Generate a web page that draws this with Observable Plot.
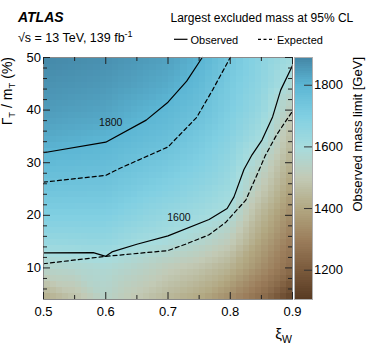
<!DOCTYPE html>
<html><head><meta charset="utf-8">
<script src="https://cdn.jsdelivr.net/npm/d3@7"></script>
<script src="https://cdn.jsdelivr.net/npm/@observablehq/plot@0.6"></script>
<style>
body{margin:0;background:#fff;}
#wrap{position:relative;width:374px;height:346px;font-family:"Liberation Sans",Arial,sans-serif;}
#wrap svg{position:absolute;left:0;top:0;overflow:visible;}
</style></head><body><div id="wrap"></div>
<script>
// ---- data ----
const xGrid = [0.5, 0.55, 0.6, 0.65, 0.7, 0.75, 0.8, 0.85, 0.9];      // xi_W
const yGrid = [4, 10, 15, 20, 25, 30, 35, 40, 45, 50];               // Gamma_T/m_T (%)
const massLimit = [                                                   // observed mass limit [GeV], rows = yGrid
  [1410, 1470, 1540, 1490, 1440, 1400, 1330, 1250, 1125],
  [1550, 1560, 1575, 1545, 1510, 1480, 1430, 1340, 1250],
  [1640, 1645, 1650, 1615, 1590, 1560, 1510, 1390, 1290],
  [1700, 1700, 1700, 1670, 1640, 1615, 1580, 1440, 1330],
  [1745, 1742, 1740, 1715, 1690, 1660, 1620, 1500, 1380],
  [1785, 1780, 1775, 1752, 1730, 1700, 1650, 1550, 1420],
  [1825, 1815, 1805, 1785, 1765, 1730, 1680, 1605, 1460],
  [1850, 1842, 1835, 1812, 1792, 1760, 1705, 1640, 1510],
  [1868, 1862, 1855, 1838, 1820, 1785, 1720, 1660, 1575],
  [1885, 1878, 1870, 1855, 1840, 1805, 1735, 1670, 1610]
];
const obs1800X = [0.5, 0.6, 0.665, 0.7, 0.73, 0.755];
const obs1800Y = [31.9, 33.9, 38.1, 41.5, 45.5, 50];
const exp1800X = [0.5, 0.6, 0.622, 0.7, 0.746, 0.772, 0.8];
const exp1800Y = [26.3, 27.6, 28.9, 33.0, 38.6, 43.9, 50];
const obs1600X = [0.5, 0.58, 0.6, 0.61, 0.65, 0.7, 0.766, 0.795, 0.806, 0.822, 0.835, 0.851, 0.868, 0.881, 0.9];
const obs1600Y = [12.85, 12.9, 12.2, 13.05, 14.5, 16.1, 19.2, 21.3, 23.5, 28.7, 31.5, 34.3, 38.7, 43.8, 48.5];
const exp1600X = [0.5, 0.6, 0.7, 0.728, 0.766, 0.793, 0.825, 0.846, 0.856, 0.875, 0.9];
const exp1600Y = [10.8, 12.2, 13.3, 14.5, 16.3, 18.7, 22.9, 28.5, 31.3, 35.4, 39.8];
const contourLabels = ["1800", "1600"];
const contourLabelX = [0.608, 0.7175];
const contourLabelY = [37.7, 19.6];
const xMajor = [0.5, 0.6, 0.7, 0.8, 0.9];
const xMinor = [0.55, 0.65, 0.75, 0.85];
const yMajor = [10, 20, 30, 40, 50];
const yMinor = [6, 8, 12, 14, 16, 18, 22, 24, 26, 28, 32, 34, 36, 38, 42, 44, 46, 48];
const cbTicks = [1200, 1400, 1600, 1800];
const colorDomain = [1105, 1200, 1300, 1400, 1500, 1600, 1700, 1800, 1890];
const colorRange = ["#583a22", "#7a5a3c", "#9c7e5c", "#b2a882", "#c2cab6", "#a6dcde", "#80cfe2", "#5cb6d4", "#4486a6"];

// ---- build ----
const cells = yGrid.flatMap((y, i) => xGrid.map((x, j) => ({x, y, v: massLimit[i][j]})));
const pts = (xs, ys) => xs.map((x, i) => ({x, y: ys[i]}));
const W = 374, H = 346, mL = 43, mR = 82, mT = 57, mB = 47;
const iw = W - mL - mR, ih = H - mT - mB;
const colorOpts = {type: "linear", domain: colorDomain, range: colorRange, interpolate: "rgb"};
const font = '"Liberation Sans", Arial, sans-serif';
const tk = {stroke: "#222", strokeWidth: 1};

const main = Plot.plot({
  width: W, height: H, marginLeft: mL, marginRight: mR, marginTop: mT, marginBottom: mB,
  style: {fontFamily: font, fontSize: "13px", background: "transparent", color: "#000"},
  x: {domain: [0.5, 0.9]}, y: {domain: [4, 50]}, color: colorOpts,
  marks: [
    Plot.raster(cells, {x: "x", y: "y", fill: "v", interpolate: "barycentric",
      x1: 0.5, x2: 0.9, y1: 4, y2: 50, width: 40, height: 40, imageRendering: "pixelated"}),
    Plot.line(pts(obs1800X, obs1800Y), {x: "x", y: "y", stroke: "#000", strokeWidth: 1.2}),
    Plot.line(pts(exp1800X, exp1800Y), {x: "x", y: "y", stroke: "#000", strokeWidth: 1.2, strokeDasharray: "4,3"}),
    Plot.line(pts(obs1600X, obs1600Y), {x: "x", y: "y", stroke: "#000", strokeWidth: 1.2}),
    Plot.line(pts(exp1600X, exp1600Y), {x: "x", y: "y", stroke: "#000", strokeWidth: 1.2, strokeDasharray: "4,3"}),
    Plot.text(contourLabels, {x: (d, i) => contourLabelX[i], y: (d, i) => contourLabelY[i], text: d => d, fontSize: 10.5, fill: "#111"}),
    Plot.frame({stroke: "#8a8a8a"}),
    Plot.tickX(xMajor, {x: d => d, insetTop: ih - 7, ...tk}),
    Plot.tickX(xMajor, {x: d => d, insetBottom: ih - 7, ...tk}),
    Plot.tickX(xMinor, {x: d => d, insetTop: ih - 4, ...tk}),
    Plot.tickX(xMinor, {x: d => d, insetBottom: ih - 4, ...tk}),
    Plot.tickY(yMajor, {y: d => d, insetRight: iw - 7, ...tk}),
    Plot.tickY(yMajor, {y: d => d, insetLeft: iw - 7, ...tk}),
    Plot.tickY(yMinor, {y: d => d, insetRight: iw - 4, ...tk}),
    Plot.tickY(yMinor, {y: d => d, insetLeft: iw - 4, ...tk}),
    Plot.axisX({ticks: xMajor, tickSize: 0, tickPadding: 7, tickFormat: d => d.toFixed(1), label: null}),
    Plot.axisY({ticks: yMajor, tickSize: 0, tickPadding: 2.5, tickFormat: d => String(d), label: null})
  ]
});

const cbL = 294, cbR = 312;
const bar = Plot.plot({
  width: W, height: H, marginLeft: cbL, marginRight: W - cbR, marginTop: mT, marginBottom: mB,
  style: {fontFamily: font, fontSize: "13px", background: "transparent", color: "#000"},
  x: {domain: [0, 1], axis: null}, y: {domain: [colorDomain[0], colorDomain[colorDomain.length - 1]]}, color: colorOpts,
  marks: [
    Plot.raster({fill: (x, y) => y, x1: 0, x2: 1, y1: colorDomain[0], y2: colorDomain[colorDomain.length - 1], width: 1, height: 110, imageRendering: "pixelated"}),
    Plot.frame({stroke: "#b0b0b0"}),
    Plot.tickY(cbTicks, {y: d => d, insetLeft: (cbR - cbL) - 8, stroke: "#333"}),
    Plot.axisY({anchor: "right", ticks: cbTicks, tickSize: 0, tickPadding: 1.5, tickFormat: d => String(d), label: null})
  ]
});

const wrap = document.getElementById("wrap");
wrap.appendChild(main);
wrap.appendChild(bar);

// ---- annotations ----
const svg = d3.select(wrap).append("svg").attr("width", W).attr("height", H)
  .style("font-family", font).style("pointer-events", "none");
svg.append("text").attr("x", 18).attr("y", 21.5).attr("font-size", 14).attr("font-weight", "bold")
  .attr("font-style", "italic").text("ATLAS");
svg.append("text").attr("x", 170.5).attr("y", 21.7).attr("font-size", 12).text("Largest excluded mass at 95% CL");
const en = svg.append("text").attr("x", 18).attr("y", 42).attr("font-size", 12.5);
en.append("tspan").text("√s = 13 TeV, 139 fb");
en.append("tspan").attr("dy", -5).attr("font-size", 9).text("-1");
svg.append("line").attr("x1", 174).attr("x2", 187.5).attr("y1", 39.3).attr("y2", 39.3).attr("stroke", "#000").attr("stroke-width", 1.2);
svg.append("text").attr("x", 190.5).attr("y", 43.5).attr("font-size", 11).text("Observed");
svg.append("line").attr("x1", 258).attr("x2", 275).attr("y1", 39.3).attr("y2", 39.3).attr("stroke", "#000").attr("stroke-width", 1.2).attr("stroke-dasharray", "3,2.5");
svg.append("text").attr("x", 277).attr("y", 43.5).attr("font-size", 11).text("Expected");
// y axis title
const yl = svg.append("text").attr("transform", "translate(12,57) rotate(-90)").attr("text-anchor", "end").attr("font-size", 14);
yl.append("tspan").text("Γ");
yl.append("tspan").attr("dy", 3).attr("font-size", 9.5).text("T");
yl.append("tspan").attr("dy", -3).text(" / m");
yl.append("tspan").attr("dy", 3).attr("font-size", 9.5).text("T");
yl.append("tspan").attr("dy", -3).text(" (%)");
// x axis title
const xl = svg.append("text").attr("x", 292).attr("y", 339).attr("text-anchor", "end").attr("font-size", 15);
xl.append("tspan").text("ξ");
xl.append("tspan").attr("dy", 4).attr("font-size", 10.5).text("W");
// colorbar title
svg.append("text").attr("transform", "translate(362,57) rotate(-90)").attr("text-anchor", "end")
  .attr("font-size", 13).text("Observed mass limit [GeV]");
</script></body></html>
